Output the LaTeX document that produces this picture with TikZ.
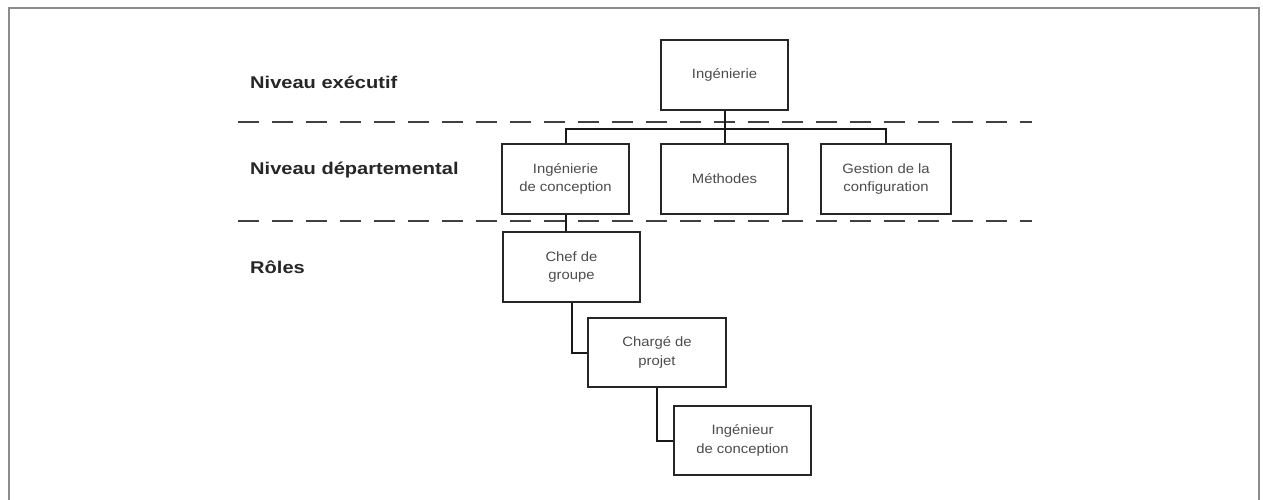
\documentclass[tikz,border=0pt]{standalone}
\usepackage{fontspec}
\setmainfont{Liberation Sans}
\newfontfamily\levelfont[FakeStretch=1.18]{Liberation Sans}
\newfontfamily\unitfont[FakeStretch=1.1]{Liberation Sans}
\begin{document}
\begin{tikzpicture}[x=1pt,y=-1pt,
  unit/.style={draw=black!85,line width=1.8pt,fill=white,inner sep=0pt,
    font=\unitfont\fontsize{13.5}{18.5}\selectfont,text=black!70,align=center},
  level/.style={anchor=west,font=\levelfont\bfseries\fontsize{17}{19}\selectfont,text=black!85},
  link/.style={draw=black!90,line width=2pt},
  sep/.style={draw=black!75,line width=2.2pt,dash pattern=on 21pt off 13pt}]
\useasboundingbox (0,0) rectangle (1263,500);
\fill[white] (0,0) rectangle (1263,500);
% outer frame (open at the bottom)
\draw[black!45,line width=2pt] (9,520) -- (9,8) -- (1259,8) -- (1259,520);

% level labels
\node[level,inner sep=0pt] (lexec) at (250,82) {Niveau exécutif};
\node[level,inner sep=0pt] (ldept) at (250,170) {Niveau départemental};
\node[level,inner sep=0pt] (lrole) at (250,267) {Rôles};

% level separators
\coordinate (s1a) at (238,122); \coordinate (s1b) at (1032,122);
\coordinate (s2a) at (238,221); \coordinate (s2b) at (1032,221);
\draw[sep] (s1a) -- (s1b);
\draw[sep] (s2a) -- (s2b);

% units
\node[unit,minimum width=127pt,minimum height=70pt] (ing) at (724.5,75) {Ingénierie};
\node[unit,minimum width=127pt,minimum height=70pt] (conc) at (565.5,179) {Ingénierie\\de conception};
\node[unit,minimum width=127pt,minimum height=70pt] (meth) at (724.5,179) {Méthodes};
\node[unit,minimum width=130pt,minimum height=70pt] (gest) at (886,179) {Gestion de la\\configuration};
\node[unit,minimum width=137pt,minimum height=70pt] (chef) at (571.5,267) {Chef de\\groupe};
\node[unit,minimum width=138pt,minimum height=69pt] (charge) at (657,352.5) {Chargé de\\projet};
\node[unit,minimum width=137pt,minimum height=69pt] (ingc) at (742.5,440.5) {Ingénieur\\de conception};

% hierarchy connectors
\coordinate (bus) at (724.5,129);
\draw[link] (ing.south) -- (bus);
\draw[link] (conc.north) |- (bus) -| (gest.north);
\draw[link] (bus) -- (meth.north);
\draw[link] (conc.south) -- (conc.south |- chef.north);
\draw[link] (chef.south) |- (charge.west);
\draw[link] (charge.south) |- (ingc.west);
\end{tikzpicture}
\end{document}
